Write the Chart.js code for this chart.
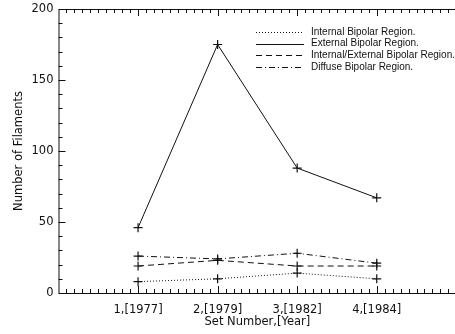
<!DOCTYPE html>
<html lang="en">

<head>
    <meta charset="UTF-8">
    <title>Filaments per Set</title>
    <script src="https://cdn.jsdelivr.net/npm/chart.js"></script>
    <style>
        html, body { margin: 0; padding: 0; background: #fff; overflow: hidden; }
        .chart-container { width: 462px; height: 334px; }
    </style>
</head>

<body>
    <div class="chart-container">
        <canvas id="filChart" width="462" height="334"></canvas>
    </div>

    <script>
        // Data
        const setNumbers = [1, 2, 3, 4];
        const setLabels = ['1,[1977]', '2,[1979]', '3,[1982]', '4,[1984]'];
        const internalBipolar = [8, 10, 14, 10];
        const externalBipolar = [46, 175, 88, 67];
        const intExtBipolar = [19, 23, 19, 19];
        const diffuseBipolar = [26, 24, 28, 21];
        const seriesNames = [
            'Internal Bipolar Region.',
            'External Bipolar Region.',
            'Internal/External Bipolar Region.',
            'Diffuse Bipolar Region.'
        ];
        const yTicks = [0, 50, 100, 150, 200];

        const ink = '#111';
        const font = 'DejaVu Sans';

        function toPoints(vals) {
            return setNumbers.map((x, i) => ({ x: x, y: vals[i] }));
        }

        function series(label, vals, dash) {
            return {
                label: label,
                data: toPoints(vals),
                borderColor: ink,
                borderWidth: 1,
                borderDash: dash,
                pointStyle: 'cross',
                pointRadius: 4.5,
                pointBorderWidth: 1.2,
                pointBorderColor: ink,
                fill: false,
                tension: 0
            };
        }

        // inward ticks, frame and the little legend in the top right
        const frame = {
            id: 'frame',
            afterDraw(chart) {
                const c = chart.ctx;
                const a = chart.chartArea;
                const xs = chart.scales.x, ys = chart.scales.y;
                c.save();
                c.strokeStyle = ink;
                c.lineWidth = 1;
                c.setLineDash([]);
                c.beginPath();
                c.moveTo(a.left + 0.5, a.top + 0.5);
                c.lineTo(a.left + 0.5, a.bottom + 0.5);
                c.moveTo(a.left, a.bottom + 0.5);
                c.lineTo(a.right, a.bottom + 0.5);
                c.moveTo(a.left, a.top + 0.5);
                c.lineTo(a.right, a.top + 0.5);
                // y ticks every 10, longer every 50
                for (let v = 10; v < 200; v += 10) {
                    const py = Math.round(ys.getPixelForValue(v)) + 0.5;
                    const len = v % 50 === 0 ? 7 : 4;
                    c.moveTo(a.left, py);
                    c.lineTo(a.left + len, py);
                }
                // x ticks every 0.1, longer every 1
                for (let i = 1; i <= 50; i++) {
                    const px = Math.round(xs.getPixelForValue(i / 10)) + 0.5;
                    if (px > a.right) break;
                    const len = i % 10 === 0 ? 7 : 4;
                    c.moveTo(px, a.bottom);
                    c.lineTo(px, a.bottom - len);
                    c.moveTo(px, a.top);
                    c.lineTo(px, a.top + len);
                }
                c.stroke();

                // legend
                c.font = '10px "Liberation Sans"';
                c.fillStyle = ink;
                c.textBaseline = 'middle';
                chart.data.datasets.forEach((ds, i) => {
                    const y = 32 + i * 11.7;
                    c.beginPath();
                    c.setLineDash(ds.borderDash || []);
                    c.moveTo(256, Math.round(y) + 0.5);
                    c.lineTo(304, Math.round(y) + 0.5);
                    c.stroke();
                    c.fillText(ds.label, 311, y);
                });
                c.restore();
            }
        };

        const ctx = document.getElementById('filChart').getContext('2d');
        const chart = new Chart(ctx, {
            type: 'line',
            data: {
                datasets: [
                    series(seriesNames[0], internalBipolar, [1, 2]),
                    series(seriesNames[1], externalBipolar, []),
                    series(seriesNames[2], intExtBipolar, [6, 4]),
                    series(seriesNames[3], diffuseBipolar, [6, 3, 1, 3])
                ]
            },
            options: {
                responsive: false,
                animation: false,
                devicePixelRatio: 1,
                layout: { padding: { top: 9, right: 0, left: 0, bottom: 0 } },
                plugins: {
                    legend: { display: false },
                    tooltip: { enabled: false }
                },
                scales: {
                    x: {
                        type: 'linear',
                        min: 0,
                        max: 5,
                        grid: { display: false, drawTicks: false },
                        border: { display: false },
                        afterFit: s => {
                            s.height = 41;
                            s.paddingLeft = 0;
                            s.paddingRight = 0;
                        },
                        afterBuildTicks: s => {
                            s.ticks = setNumbers.map(v => ({ value: v }));
                        },
                        ticks: {
                            autoSkip: false,
                            maxRotation: 0,
                            padding: 10,
                            color: ink,
                            font: { family: font, size: 11.5 },
                            callback: v => setLabels[setNumbers.indexOf(v)] || ''
                        },
                        title: {
                            display: true,
                            text: 'Set Number,[Year]',
                            color: ink,
                            font: { family: font, size: 11.5 },
                            padding: { top: 0, bottom: 5 }
                        }
                    },
                    y: {
                        min: 0,
                        max: 200,
                        grid: { display: false, drawTicks: false },
                        border: { display: false },
                        afterFit: s => {
                            s.width = 58.5;
                            s.paddingTop = 0;
                            s.paddingBottom = 0;
                        },
                        afterBuildTicks: s => {
                            s.ticks = yTicks.map(v => ({ value: v }));
                        },
                        ticks: {
                            padding: 5,
                            color: ink,
                            font: { family: font, size: 11.5 }
                        },
                        title: {
                            display: true,
                            text: 'Number of Filaments',
                            color: ink,
                            font: { family: font, size: 11.5 },
                            padding: { top: 12, bottom: 0 }
                        }
                    }
                }
            },
            plugins: [frame]
        });
    </script>
</body>

</html>
